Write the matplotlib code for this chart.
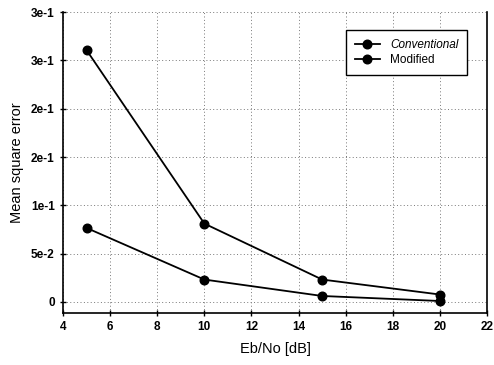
import matplotlib
matplotlib.use("Agg")
import matplotlib.pyplot as plt

ebno = [5, 10, 15, 20]
conventional = [0.2606, 0.0811, 0.0232, 0.0077]
modified = [0.0766, 0.0232, 0.0062, 0.0010]
yticks = [0, 0.05, 0.10, 0.15, 0.20, 0.25, 0.30]
ytick_labels = ["0", "5e-2", "1e-1", "2e-1", "2e-1", "3e-1", "3e-1"]
xticks = [4, 6, 8, 10, 12, 14, 16, 18, 20, 22]

plt.rcParams['font.family'] = ['Liberation Sans', 'DejaVu Sans']

fig = plt.figure(figsize=(4.94, 3.65), dpi=100)
ax = fig.add_axes([0.1275, 0.1425, 0.986 - 0.1275, 0.967 - 0.1425])

ax.plot(ebno, conventional, color='black', lw=1.3, marker='o', ms=6.2, label='Conventional')
ax.plot(ebno, modified, color='black', lw=1.3, marker='o', ms=6.2, label='Modified')

ax.set_xlim(4, 22)
ax.set_ylim(-0.0114, 0.30)
ax.set_xticks(xticks)
ax.set_xticklabels([str(x) for x in xticks], fontweight='bold', fontsize=8.5)
ax.set_yticks(yticks)
ax.set_yticklabels(ytick_labels, fontweight='bold', fontsize=8.5)
ax.grid(True, linestyle=(0, (1, 2.5)), color='#777777', lw=0.7)
ax.spines['top'].set_visible(False)
for s in ['left', 'bottom', 'right']:
    ax.spines[s].set_linewidth(1.2)
ax.tick_params(direction='inout', length=5, width=1)

ax.set_xlabel('Eb/No [dB]', fontsize=10.5, labelpad=6)
ax.set_ylabel('Mean square error', fontsize=10.5, labelpad=5)

leg = ax.legend(loc='upper right', bbox_to_anchor=(0.953, 0.94), borderaxespad=0,
                fontsize=8.5, frameon=True, fancybox=False, edgecolor='black',
                framealpha=1, handlelength=2.2, borderpad=0.75, labelspacing=0.25)
leg.get_frame().set_linewidth(1.0)
leg.get_texts()[0].set_style('italic')

fig.savefig('out.png', dpi=100)
